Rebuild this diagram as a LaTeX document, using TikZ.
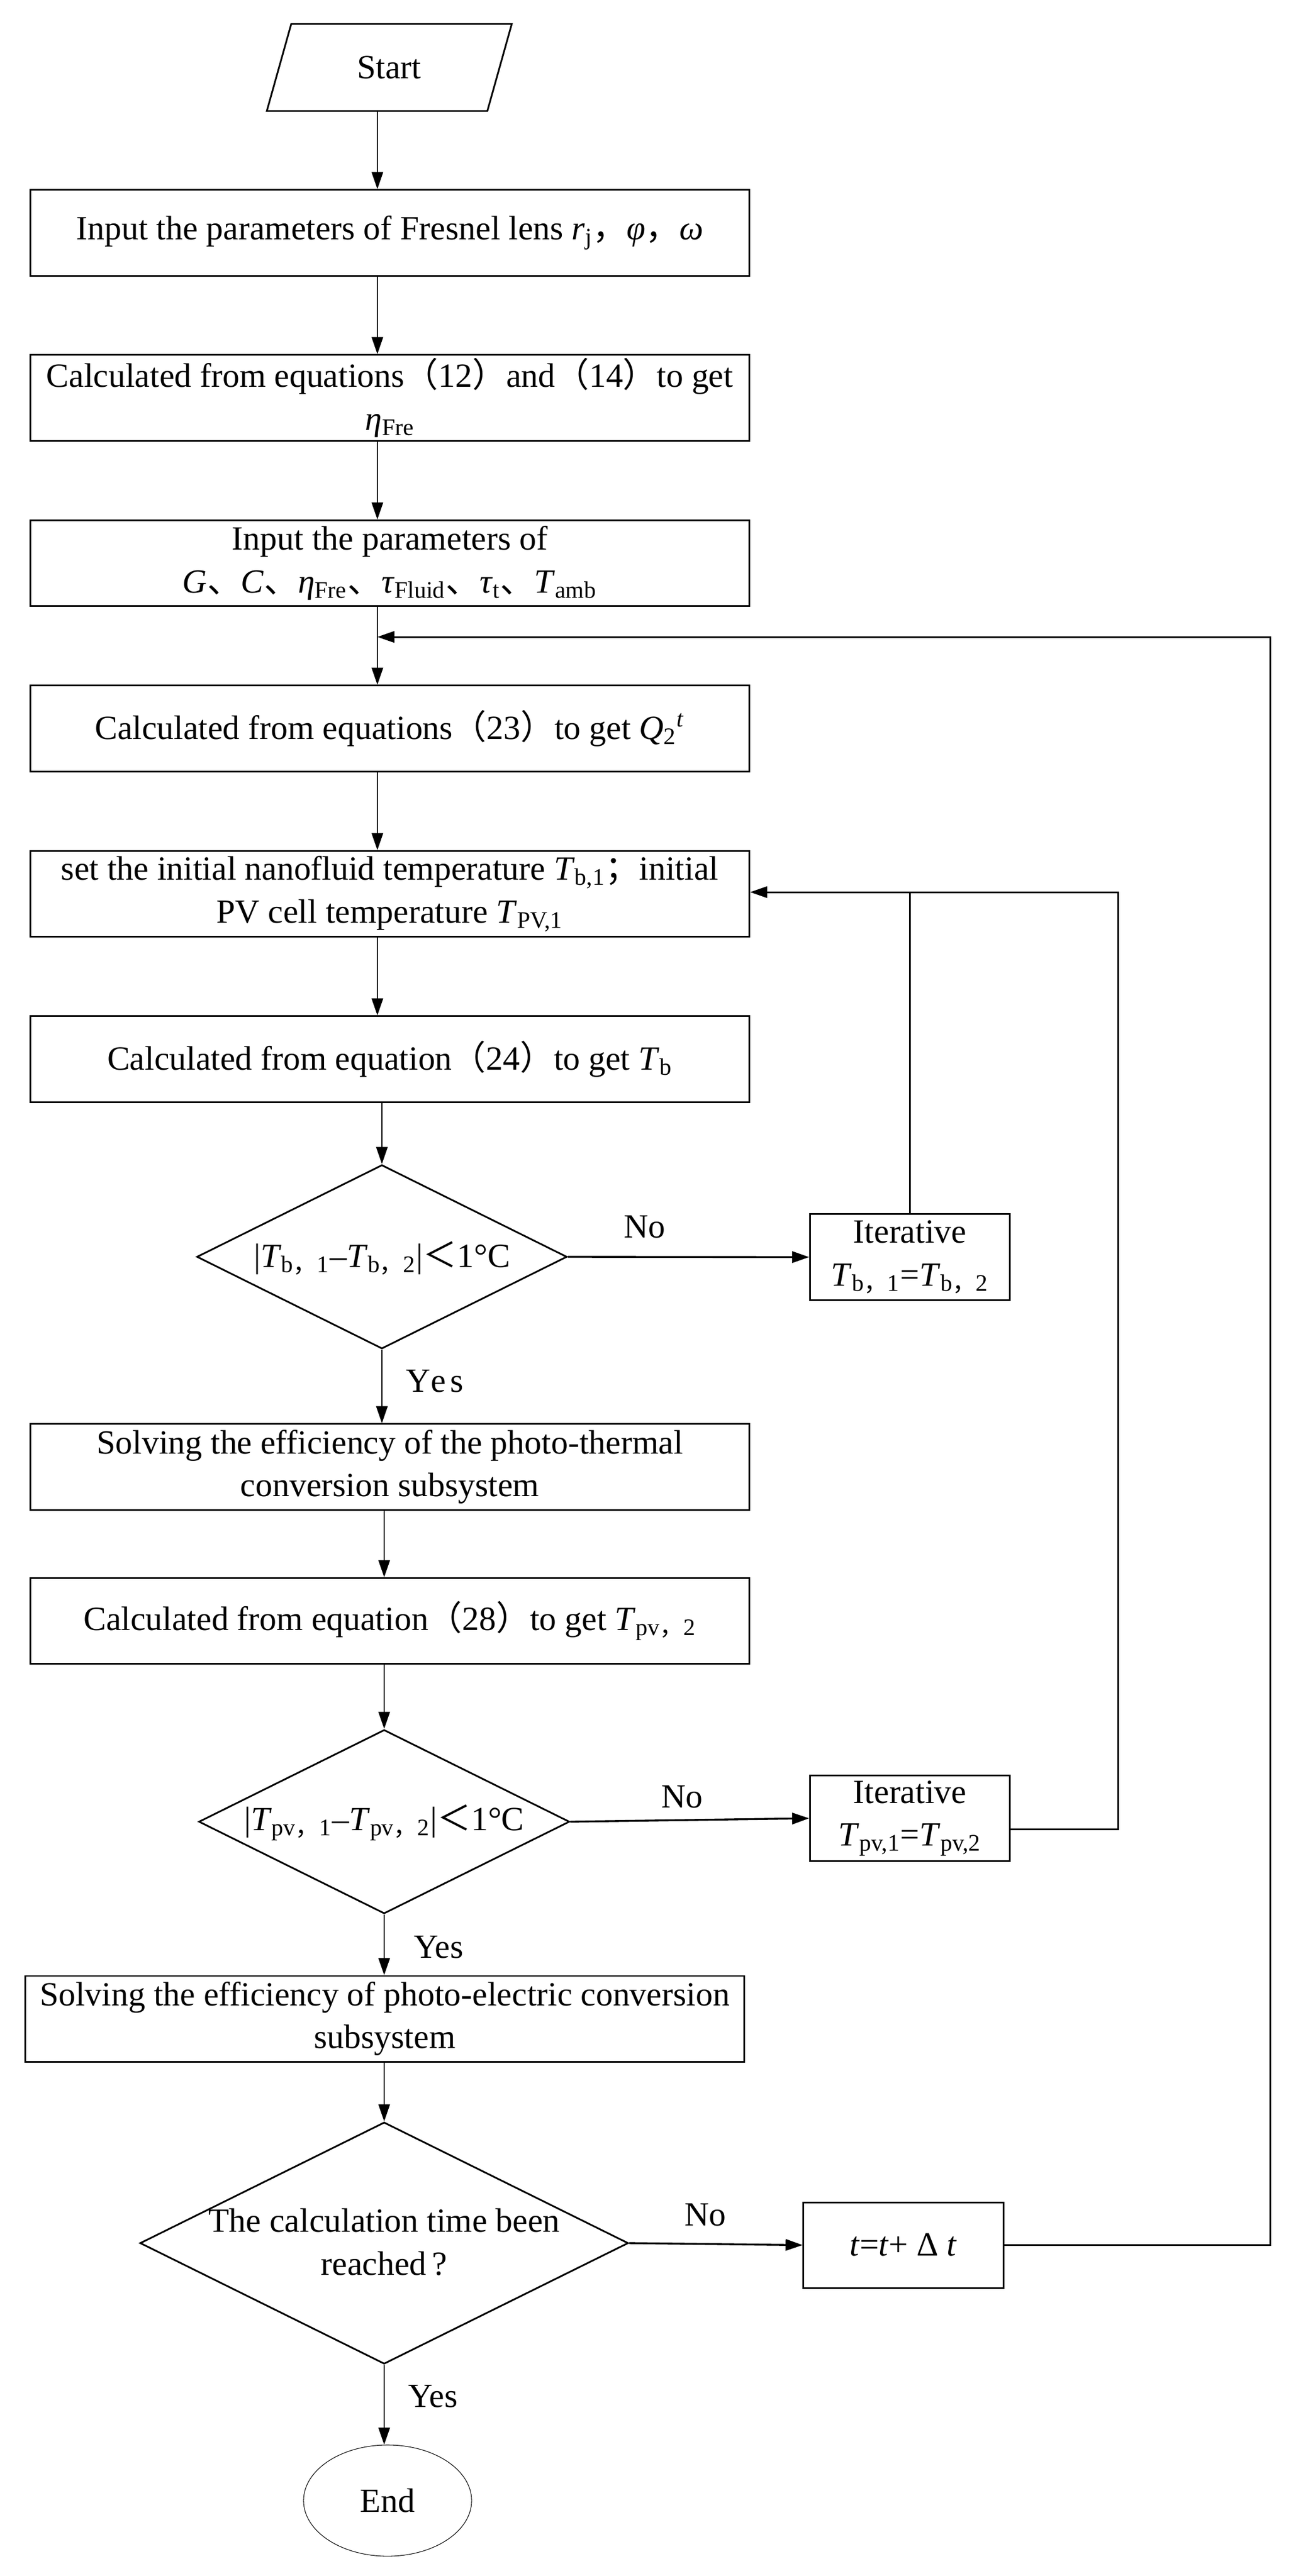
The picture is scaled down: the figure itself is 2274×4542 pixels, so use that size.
\documentclass[tikz,border=0pt]{standalone}
\usepackage{fontspec}
\setmainfont{Liberation Serif}
\newfontfamily\cjk{Noto Sans CJK SC}
\newfontfamily\spacedrm[LetterSpace=12]{Liberation Serif}
\usetikzlibrary{arrows.meta,shapes.geometric,calc}
\newcommand{\cw}[1]{{\cjk #1}}
\newcommand{\sbs}[1]{\textsubscript{#1}}
\begin{document}
\begin{tikzpicture}[x=0.01cm,y=-0.01cm,
  every node/.style={font=\fontsize{17pt}{21.5pt}\selectfont},
  procbox/.style={draw, line width=0.85pt, rectangle, minimum width=12.66cm, minimum height=1.51cm, align=center, inner sep=0pt},
  itbox/.style={procbox, minimum width=3.52cm},
  decis/.style={draw, line width=0.85pt, diamond, inner sep=0pt},
  tip/.style={-{Triangle[length=0.3cm,width=0.2cm]}},
  arr/.style={line width=0.75pt, tip},
  harr/.style={line width=0.95pt, tip},
  fb/.style={line width=0.85pt},
  lbl/.style={inner sep=0pt, align=center}]
\fill[white] (0,0) rectangle (2274,4542);
\useasboundingbox (0,0) rectangle (2274,4542);

% start
\node[minimum width=3.87cm, minimum height=1.52cm, inner sep=0pt] (start) at (686,119) {Start};
\draw[fb] ($(start.north west)+(0.215cm,0)$) -- ($(start.north east)+(0.215cm,0)$) -- ($(start.south east)+(-0.215cm,0)$) -- ($(start.south west)+(-0.215cm,0)$) -- cycle;

\node[procbox] (b1) at (687,410.5) {Input the parameters of Fresnel lens \textit{r}\sbs{j}\cw{，}\textit{φ}\cw{，}\textit{ω}};
\node[procbox] (b2) at (687,701.5) {Calculated from equations\cw{（}12\cw{）}and\cw{（}14\cw{）}to get\\\textit{η}\sbs{Fre}};
\node[procbox] (b3) at (687,993) {Input the parameters of\\\textit{G}\cw{、}\textit{C}\cw{、}\textit{η}\sbs{Fre}\cw{、}\textit{τ}\sbs{Fluid}\cw{、}\textit{τ}\sbs{t}\cw{、}\textit{T}\sbs{amb}};
\node[procbox] (b4) at (687,1284.5) {Calculated from equations\cw{（}23\cw{）}to get \textit{Q}\sbs{2}\textsuperscript{\textit{t}}};
\node[procbox] (b5) at (687,1576) {set the initial nanofluid temperature \textit{T}\sbs{b,1}\cw{；}initial\\PV cell temperature \textit{T}\sbs{PV,1}};
\node[procbox] (b6) at (687,1867.5) {Calculated from equation\cw{（}24\cw{）}to get \textit{T}\sbs{b}};

\node[decis, minimum width=6.52cm, minimum height=3.24cm] (d1) at (673,2216) {};
\node[lbl] (d1t) at (673,2218) {|\textit{T}\sbs{b\cw{，}1}–\textit{T}\sbs{b\cw{，}2}|\cw{＜}1°C};
\node[itbox] (it1) at (1603.5,2216.5) {Iterative\\\textit{T}\sbs{b\cw{，}1}=\textit{T}\sbs{b\cw{，}2}};
\node[lbl] (no1) at (1136,2163) {No};
\node[lbl] (yes1) at (766,2435) {\spacedrm Yes};

\node[procbox] (b7) at (687,2586.5) {Solving the efficiency of the photo-thermal\\conversion subsystem};
\node[procbox] (b8) at (687,2858) {Calculated from equation\cw{（}28\cw{）}to get \textit{T}\sbs{pv\cw{，}2}};

\node[decis, minimum width=6.53cm, minimum height=3.24cm] (d2) at (677,3212) {};
\node[lbl] (d2t) at (677,3214) {|\textit{T}\sbs{pv\cw{，}1}–\textit{T}\sbs{pv\cw{，}2}|\cw{＜}1°C};
\node[itbox] (it2) at (1603.5,3206) {Iterative\\\textit{T}\sbs{pv,1}=\textit{T}\sbs{pv,2}};
\node[lbl] (no2) at (1202,3168) {No};
\node[lbl] (yes2) at (773,3433) {Yes};

\node[procbox] (b9) at (678,3559.5) {Solving the efficiency of photo-electric conversion\\subsystem};

\node[decis, minimum width=8.60cm, minimum height=4.26cm] (d3) at (677,3955) {};
\node[lbl] (d3t) at (677,3953) {The calculation time been\\reached\,?};
\node[itbox] (tb) at (1592,3958.5) {\textit{t}=\textit{t}+ Δ \textit{t}};
\node[lbl] (no3) at (1243,3905) {No};
\node[lbl] (yes3) at (763,4225) {Yes};

\node[draw, ellipse, line width=0.3pt, minimum width=2.96cm, minimum height=1.96cm, inner sep=0pt] (end) at (683,4409) {End};

% main column connectors
\coordinate (c1) at (665,0);
\coordinate (c2) at (677,0);
\draw[arr] (start.south -| c1) -- (b1.north -| c1);
\draw[arr] (b1.south -| c1) -- (b2.north -| c1);
\draw[arr] (b2.south -| c1) -- (b3.north -| c1);
\draw[arr] (b3.south -| c1) -- (b4.north -| c1);
\draw[arr] (b4.south -| c1) -- (b5.north -| c1);
\draw[arr] (b5.south -| c1) -- (b6.north -| c1);
\draw[arr] (b6.south -| d1.north) -- (d1.north);
\draw[arr] (d1.south) -- (b7.north -| d1.south);
\draw[arr] (b7.south -| c2) -- (b8.north -| c2);
\draw[arr] (b8.south -| c2) -- (d2.north);
\draw[arr] (d2.south) -- (b9.north -| d2.south);
\draw[arr] (b9.south -| d3.north) -- (d3.north);
\draw[arr] (d3.south) -- (end.north -| d3.south);

% decisions to the right
\draw[harr] (d1.east) -- (it1.west);
\draw[harr] (d2.east) -- (it2.west);
\draw[harr] (d3.east) -- (tb.west);

% feedback loops
\coordinate (r2) at (1970,1573);
\draw[fb, tip] ($(it2.east)+(0,-0.19cm)$) -| (r2) -- (r2 -| b5.east);
\draw[fb] (it1.north) -- (it1.north |- r2);
\coordinate (r1) at (2238,1123);
\draw[fb, tip] (tb.east) -| (r1) -- (r1 -| c1);
\end{tikzpicture}
\end{document}
